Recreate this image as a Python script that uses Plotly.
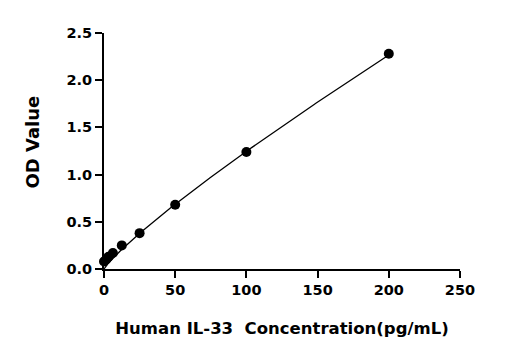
import numpy as np
import plotly.graph_objects as go

conc = [0, 1.56, 3.125, 6.25, 12.5, 25, 50, 100, 200]
od = [0.08, 0.10, 0.13, 0.17, 0.25, 0.38, 0.68, 1.24, 2.28]
x_ticks = [0, 50, 100, 150, 200, 250]
y_ticks = [0.0, 0.5, 1.0, 1.5, 2.0, 2.5]

# power-law fit on upper standards
xa = np.array(conc[5:]); ya = np.array(od[5:])
b, loga = np.polyfit(np.log(xa), np.log(ya), 1)
xf = np.linspace(0, 200, 300)
yf = np.exp(loga) * xf ** b

fig = go.Figure()
fig.add_trace(go.Scatter(x=xf, y=yf, mode="lines", line=dict(color="black", width=1.3),
                         hoverinfo="skip", cliponaxis=False))
fig.add_trace(go.Scatter(x=conc, y=od, mode="markers", marker=dict(color="black", size=10),
                         cliponaxis=False))

FAM = "DejaVu Sans, Arial, sans-serif"
L, R, T, B, W, H = 104, 55, 33, 81, 515, 350
fig.update_layout(
    width=W, height=H, showlegend=False,
    margin=dict(l=L, r=R, t=T, b=B),
    plot_bgcolor="white", paper_bgcolor="white",
    font=dict(family=FAM, color="black"),
)
fig.update_xaxes(range=[0, 250], tickvals=x_ticks, ticktext=[str(v) for v in x_ticks],
                 showgrid=False, zeroline=False, showline=True, linecolor="black", linewidth=2,
                 ticks="outside", ticklen=7, tickwidth=2, tickcolor="black",
                 tickfont=dict(size=14.5, family=FAM, color="black", weight="bold"),
                 title=dict(text="<b>Human IL-33  Concentration(pg/mL)</b>",
                            font=dict(size=16.5, family=FAM), standoff=25))
fig.update_yaxes(range=[0, 2.5], tickvals=y_ticks, ticktext=[f"{v:.1f}" for v in y_ticks],
                 showgrid=False, zeroline=False, showline=True, linecolor="black", linewidth=2,
                 ticks="outside", ticklen=7, tickwidth=2, tickcolor="black",
                 tickfont=dict(size=14.5, family=FAM, color="black", weight="bold"))
pw = W - L - R
ph = H - T - B
fig.add_annotation(text="<b>OD Value</b>", textangle=-90, showarrow=False,
                   xref="paper", yref="paper",
                   x=(31.5 - L) / pw, y=(H - B - 142) / ph,
                   xanchor="center", yanchor="middle",
                   font=dict(size=18, family=FAM, color="black"))
fig.write_html("out.html")
